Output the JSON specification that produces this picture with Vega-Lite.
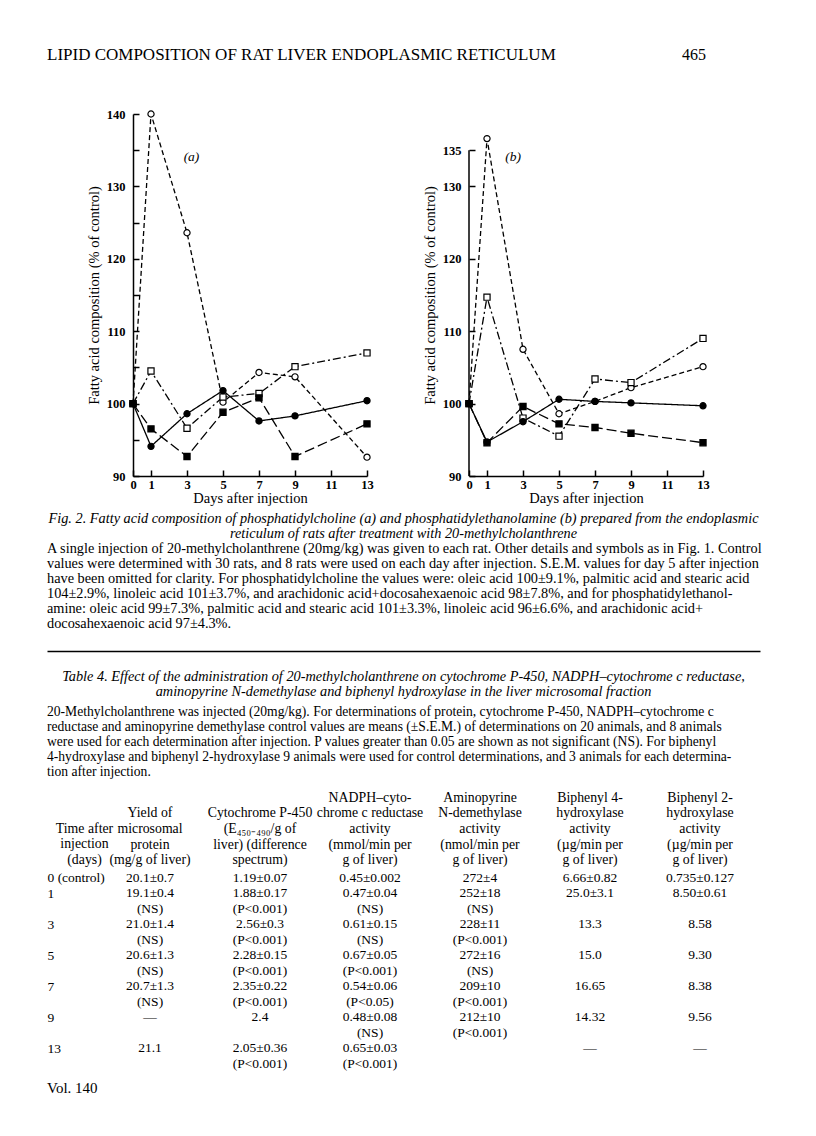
{
  "$schema": "https://vega.github.io/schema/vega-lite/v6.json",
  "background": "white",
  "padding": {"left": 47, "top": 8, "right": 0, "bottom": 0},
  "spacing": 6,
  "config": {
    "view": {"stroke": null},
    "font": "Liberation Serif",
    "text": {"font": "Liberation Serif", "color": "black", "fontSize": 13},
    "title": {"font": "Liberation Serif", "fontWeight": "normal", "color": "black", "fontSize": 13},
    "axis": {"domainColor": "black", "tickColor": "black", "labelColor": "black", "titleColor": "black", "labelFont": "Liberation Serif", "titleFont": "Liberation Serif", "grid": false, "labelFlush": false, "labelOverlap": false, "titleFontWeight": "normal"}
  },
  "datasets": {
    "fatty": [
      {"panel": "a", "series": "open circle", "day": 0, "value": 100},
      {"panel": "a", "series": "open circle", "day": 1, "value": 140},
      {"panel": "a", "series": "open circle", "day": 3, "value": 123.6},
      {"panel": "a", "series": "open circle", "day": 5, "value": 100.2},
      {"panel": "a", "series": "open circle", "day": 7, "value": 104.3},
      {"panel": "a", "series": "open circle", "day": 9, "value": 103.7},
      {"panel": "a", "series": "open circle", "day": 13, "value": 92.6},
      {"panel": "a", "series": "open square", "day": 0, "value": 100},
      {"panel": "a", "series": "open square", "day": 1, "value": 104.5},
      {"panel": "a", "series": "open square", "day": 3, "value": 96.6},
      {"panel": "a", "series": "open square", "day": 5, "value": 100.9},
      {"panel": "a", "series": "open square", "day": 7, "value": 101.4},
      {"panel": "a", "series": "open square", "day": 9, "value": 105.1},
      {"panel": "a", "series": "open square", "day": 13, "value": 107.0},
      {"panel": "a", "series": "filled circle", "day": 0, "value": 100},
      {"panel": "a", "series": "filled circle", "day": 1, "value": 94.1},
      {"panel": "a", "series": "filled circle", "day": 3, "value": 98.6},
      {"panel": "a", "series": "filled circle", "day": 5, "value": 101.8},
      {"panel": "a", "series": "filled circle", "day": 7, "value": 97.6},
      {"panel": "a", "series": "filled circle", "day": 9, "value": 98.3},
      {"panel": "a", "series": "filled circle", "day": 13, "value": 100.4},
      {"panel": "a", "series": "filled square", "day": 0, "value": 100},
      {"panel": "a", "series": "filled square", "day": 1, "value": 96.5},
      {"panel": "a", "series": "filled square", "day": 3, "value": 92.7},
      {"panel": "a", "series": "filled square", "day": 5, "value": 98.8},
      {"panel": "a", "series": "filled square", "day": 7, "value": 100.8},
      {"panel": "a", "series": "filled square", "day": 9, "value": 92.7},
      {"panel": "a", "series": "filled square", "day": 13, "value": 97.2},
      {"panel": "b", "series": "open circle", "day": 0, "value": 100},
      {"panel": "b", "series": "open circle", "day": 1, "value": 136.6},
      {"panel": "b", "series": "open circle", "day": 3, "value": 107.5},
      {"panel": "b", "series": "open circle", "day": 5, "value": 98.6},
      {"panel": "b", "series": "open circle", "day": 7, "value": 100.3},
      {"panel": "b", "series": "open circle", "day": 9, "value": 102.2},
      {"panel": "b", "series": "open circle", "day": 13, "value": 105.1},
      {"panel": "b", "series": "open square", "day": 0, "value": 100},
      {"panel": "b", "series": "open square", "day": 1, "value": 114.7},
      {"panel": "b", "series": "open square", "day": 3, "value": 98.0},
      {"panel": "b", "series": "open square", "day": 5, "value": 95.5},
      {"panel": "b", "series": "open square", "day": 7, "value": 103.4},
      {"panel": "b", "series": "open square", "day": 9, "value": 102.9},
      {"panel": "b", "series": "open square", "day": 13, "value": 109.0},
      {"panel": "b", "series": "filled circle", "day": 0, "value": 100},
      {"panel": "b", "series": "filled circle", "day": 1, "value": 94.7},
      {"panel": "b", "series": "filled circle", "day": 3, "value": 97.5},
      {"panel": "b", "series": "filled circle", "day": 5, "value": 100.6},
      {"panel": "b", "series": "filled circle", "day": 7, "value": 100.3},
      {"panel": "b", "series": "filled circle", "day": 9, "value": 100.1},
      {"panel": "b", "series": "filled circle", "day": 13, "value": 99.7},
      {"panel": "b", "series": "filled square", "day": 0, "value": 100},
      {"panel": "b", "series": "filled square", "day": 1, "value": 94.6},
      {"panel": "b", "series": "filled square", "day": 3, "value": 99.6},
      {"panel": "b", "series": "filled square", "day": 5, "value": 97.2},
      {"panel": "b", "series": "filled square", "day": 7, "value": 96.7},
      {"panel": "b", "series": "filled square", "day": 9, "value": 95.9},
      {"panel": "b", "series": "filled square", "day": 13, "value": 94.6}
    ],
    "panels": [
      {"panel": "a", "label": "(a)"},
      {"panel": "b", "label": "(b)"}
    ],
    "columns": [
      {"col": "yield", "header": "|Yield of|microsomal|protein|(mg/g of liver)"},
      {"col": "cyto", "header": "|Cytochrome P-450|(E₄₅₀₋₄₉₀/g of|liver) (difference|spectrum)"},
      {"col": "nadph", "header": "NADPH–cyto-|chrome c reductase|activity|(mmol/min per|g of liver)"},
      {"col": "amino", "header": "Aminopyrine|N-demethylase|activity|(nmol/min per|g of liver)"},
      {"col": "bp4", "header": "Biphenyl 4-|hydroxylase|activity|(µg/min per|g of liver)"},
      {"col": "bp2", "header": "Biphenyl 2-|hydroxylase|activity|(µg/min per|g of liver)"}
    ],
    "table": [
      {"line": "0 (control)", "yield": "20.1±0.7", "cyto": "1.19±0.07", "nadph": "0.45±0.002", "amino": "272±4", "bp4": "6.66±0.82", "bp2": "0.735±0.127"},
      {"line": "1", "yield": "19.1±0.4", "cyto": "1.88±0.17", "nadph": "0.47±0.04", "amino": "252±18", "bp4": "25.0±3.1", "bp2": "8.50±0.61"},
      {"line": "1 (P)", "yield": "(NS)", "cyto": "(P<0.001)", "nadph": "(NS)", "amino": "(NS)"},
      {"line": "3", "yield": "21.0±1.4", "cyto": "2.56±0.3", "nadph": "0.61±0.15", "amino": "228±11", "bp4": "13.3", "bp2": "8.58"},
      {"line": "3 (P)", "yield": "(NS)", "cyto": "(P<0.001)", "nadph": "(NS)", "amino": "(P<0.001)"},
      {"line": "5", "yield": "20.6±1.3", "cyto": "2.28±0.15", "nadph": "0.67±0.05", "amino": "272±16", "bp4": "15.0", "bp2": "9.30"},
      {"line": "5 (P)", "yield": "(NS)", "cyto": "(P<0.001)", "nadph": "(P<0.001)", "amino": "(NS)"},
      {"line": "7", "yield": "20.7±1.3", "cyto": "2.35±0.22", "nadph": "0.54±0.06", "amino": "209±10", "bp4": "16.65", "bp2": "8.38"},
      {"line": "7 (P)", "yield": "(NS)", "cyto": "(P<0.001)", "nadph": "(P<0.05)", "amino": "(P<0.001)"},
      {"line": "9", "yield": "—", "cyto": "2.4", "nadph": "0.48±0.08", "amino": "212±10", "bp4": "14.32", "bp2": "9.56"},
      {"line": "9 (P)", "nadph": "(NS)", "amino": "(P<0.001)"},
      {"line": "13", "yield": "21.1", "cyto": "2.05±0.36", "nadph": "0.65±0.03", "bp4": "—", "bp2": "—"},
      {"line": "13 (P)", "cyto": "(P<0.001)", "nadph": "(P<0.001)"}
    ]
  },
  "vconcat": [
    {
      "width": 627,
      "height": 94,
      "layer": [
        {
          "data": {"values": [{"t": "LIPID COMPOSITION OF RAT LIVER ENDOPLASMIC RETICULUM"}]},
          "mark": {"type": "text", "align": "left", "fontSize": 17},
          "encoding": {
            "x": {"datum": 0, "type": "quantitative", "scale": {"domain": [0, 1], "range": [-86, 573]}, "axis": null},
            "text": {"field": "t"}
          }
        },
        {
          "data": {"values": [{"t": "465"}]},
          "mark": {"type": "text", "align": "right", "fontSize": 16},
          "encoding": {
            "x": {"datum": 1, "type": "quantitative"},
            "text": {"field": "t"}
          }
        }
      ]
    },
    {
      "spacing": 48,
      "hconcat": [
        {
          "width": 234,
          "height": 362,
          "layer": [
            {
              "data": {"name": "fatty"},
              "transform": [{"filter": "datum.panel === 'a'"}],
              "mark": {"type": "line", "color": "black", "strokeWidth": 1.3},
              "encoding": {
                "x": {"field": "day", "type": "quantitative", "scale": {"domain": [0, 13], "nice": false},
                  "axis": {"values": [0, 1, 3, 5, 7, 9, 11, 13], "format": "d", "tickCount": 30, "labelOverlap": false, "labelFlush": false, "tickSize": -6, "tickWidth": 1.5, "domainWidth": 1.5, "labelPadding": 8, "labelFontSize": 12.5, "labelFontWeight": "bold", "title": "Days after injection", "titleFontSize": 14.5, "titlePadding": 1}},
                "y": {"field": "value", "type": "quantitative", "scale": {"domain": [90, 140], "nice": false, "zero": false},
                  "axis": {"values": [90, 95, 100, 105, 110, 115, 120, 125, 130, 135, 140], "format": "d", "tickCount": 30, "labelOverlap": false, "labelFlush": false, "labelExpr": "datum.value % 10 === 0 ? datum.label : ''", "tickSize": -6, "tickWidth": 1.5, "domainWidth": 1.5, "labelPadding": 14, "labelFontSize": 12.5, "labelFontWeight": "bold", "title": "Fatty acid composition (% of control)", "titleFontSize": 14.5, "titlePadding": 5}},
                "strokeDash": {"field": "series", "type": "nominal", "scale": {"domain": ["open circle", "open square", "filled circle", "filled square"], "range": [[5, 3], [8, 3, 2, 3], [1, 0], [10, 4]]}, "legend": null}
              }
            },
            {
              "data": {"name": "fatty"},
              "transform": [{"filter": "datum.panel === 'a'"}],
              "mark": {"type": "point", "filled": true, "stroke": "black", "strokeWidth": 1.2, "size": 38, "opacity": 1},
              "encoding": {
                "x": {"field": "day", "type": "quantitative"},
                "y": {"field": "value", "type": "quantitative"},
                "shape": {"field": "series", "type": "nominal", "scale": {"domain": ["open circle", "open square", "filled circle", "filled square"], "range": ["circle", "square", "circle", "square"]}, "legend": null},
                "fill": {"field": "series", "type": "nominal", "scale": {"domain": ["open circle", "open square", "filled circle", "filled square"], "range": ["white", "white", "black", "black"]}, "legend": null}
              }
            },
            {
              "data": {"name": "panels"},
              "transform": [{"filter": "datum.panel === 'a'"}],
              "mark": {"type": "text", "fontStyle": "italic", "fontSize": 13.5},
              "encoding": {
                "x": {"datum": 3.25, "type": "quantitative"},
                "y": {"datum": 134, "type": "quantitative"},
                "text": {"field": "label"}
              }
            }
          ]
        },
        {
          "width": 234,
          "height": 362,
          "layer": [
            {
              "data": {"name": "fatty"},
              "transform": [{"filter": "datum.panel === 'b'"}],
              "mark": {"type": "line", "color": "black", "strokeWidth": 1.3},
              "encoding": {
                "x": {"field": "day", "type": "quantitative", "scale": {"domain": [0, 13], "nice": false},
                  "axis": {"values": [0, 1, 3, 5, 7, 9, 11, 13], "format": "d", "tickCount": 30, "labelOverlap": false, "labelFlush": false, "tickSize": -6, "tickWidth": 1.5, "domainWidth": 1.5, "labelPadding": 8, "labelFontSize": 12.5, "labelFontWeight": "bold", "title": "Days after injection", "titleFontSize": 14.5, "titlePadding": 1}},
                "y": {"field": "value", "type": "quantitative", "scale": {"domain": [90, 140], "nice": false, "zero": false},
                  "axis": {"values": [90, 100, 110, 120, 130, 135], "format": "d", "tickCount": 30, "labelOverlap": false, "labelFlush": false, "domain": false, "tickSize": -6, "tickWidth": 1.5, "labelPadding": 14, "labelFontSize": 12.5, "labelFontWeight": "bold", "title": "Fatty acid composition (% of control)", "titleFontSize": 14.5, "titlePadding": 5}},
                "strokeDash": {"field": "series", "type": "nominal", "scale": {"domain": ["open circle", "open square", "filled circle", "filled square"], "range": [[5, 3], [8, 3, 2, 3], [1, 0], [10, 4]]}, "legend": null}
              }
            },
            {
              "data": {"name": "panels"},
              "transform": [{"filter": "datum.panel === 'b'"}],
              "mark": {"type": "rule", "color": "black", "strokeWidth": 1.5},
              "encoding": {
                "x": {"datum": 0, "type": "quantitative"},
                "y": {"datum": 90, "type": "quantitative"},
                "y2": {"datum": 135}
              }
            },
            {
              "data": {"name": "fatty"},
              "transform": [{"filter": "datum.panel === 'b'"}],
              "mark": {"type": "point", "filled": true, "stroke": "black", "strokeWidth": 1.2, "size": 38, "opacity": 1},
              "encoding": {
                "x": {"field": "day", "type": "quantitative"},
                "y": {"field": "value", "type": "quantitative"},
                "shape": {"field": "series", "type": "nominal", "scale": {"domain": ["open circle", "open square", "filled circle", "filled square"], "range": ["circle", "square", "circle", "square"]}, "legend": null},
                "fill": {"field": "series", "type": "nominal", "scale": {"domain": ["open circle", "open square", "filled circle", "filled square"], "range": ["white", "white", "black", "black"]}, "legend": null}
              }
            },
            {
              "data": {"name": "panels"},
              "transform": [{"filter": "datum.panel === 'b'"}],
              "mark": {"type": "text", "fontStyle": "italic", "fontSize": 13.5},
              "encoding": {
                "x": {"datum": 2.45, "type": "quantitative"},
                "y": {"datum": 134, "type": "quantitative"},
                "text": {"field": "label"}
              }
            }
          ]
        }
      ]
    },
    {
      "width": 627,
      "height": 90,
      "title": {
        "text": ["Fig. 2. Fatty acid composition of phosphatidylcholine (a) and phosphatidylethanolamine (b) prepared from the endoplasmic", "reticulum of rats after treatment with 20-methylcholanthrene"],
        "anchor": "middle", "frame": "bounds", "dx": -43, "fontStyle": "italic", "fontSize": 14.3, "lineHeight": 15, "offset": 0
      },
      "data": {"values": [
        {"line": "A single injection of 20-methylcholanthrene (20mg/kg) was given to each rat. Other details and symbols as in Fig. 1. Control"},
        {"line": "values were determined with 30 rats, and 8 rats were used on each day after injection. S.E.M. values for day 5 after injection"},
        {"line": "have been omitted for clarity. For phosphatidylcholine the values were: oleic acid 100±9.1%, palmitic acid and stearic acid"},
        {"line": "104±2.9%, linoleic acid 101±3.7%, and arachidonic acid+docosahexaenoic acid 98±7.8%, and for phosphatidylethanol-"},
        {"line": "amine: oleic acid 99±7.3%, palmitic acid and stearic acid 101±3.3%, linoleic acid 96±6.6%, and arachidonic acid+"},
        {"line": "docosahexaenoic acid 97±4.3%."}
      ]},
      "mark": {"type": "text", "align": "left", "fontSize": 14.3},
      "encoding": {
        "x": {"datum": 0, "type": "quantitative", "scale": {"domain": [0, 1], "range": [-86, 627]},
          "axis": {"labels": false, "ticks": false, "title": null, "domain": true, "domainWidth": 1.3, "offset": 20, "minExtent": 12, "orient": "bottom"}},
        "y": {"field": "line", "type": "ordinal", "sort": null, "scale": {"type": "point", "padding": 0.5}, "axis": null},
        "text": {"field": "line"}
      }
    },
    {
      "width": 627,
      "height": 76,
      "title": {
        "text": ["Table 4. Effect of the administration of 20-methylcholanthrene on cytochrome P-450, NADPH–cytochrome c reductase,", "aminopyrine N-demethylase and biphenyl hydroxylase in the liver microsomal fraction"],
        "anchor": "middle", "frame": "bounds", "fontStyle": "italic", "fontSize": 14.3, "lineHeight": 15, "offset": 5
      },
      "data": {"values": [
        {"line": "20-Methylcholanthrene was injected (20mg/kg). For determinations of protein, cytochrome P-450, NADPH–cytochrome c"},
        {"line": "reductase and aminopyrine demethylase control values are means (±S.E.M.) of determinations on 20 animals, and 8 animals"},
        {"line": "were used for each determination after injection. P values greater than 0.05 are shown as not significant (NS). For biphenyl"},
        {"line": "4-hydroxylase and biphenyl 2-hydroxylase 9 animals were used for control determinations, and 3 animals for each determina-"},
        {"line": "tion after injection."}
      ]},
      "mark": {"type": "text", "align": "left", "fontSize": 13.6},
      "encoding": {
        "x": {"datum": 0, "type": "quantitative", "scale": {"domain": [0, 1], "range": [-86, 627]}, "axis": null},
        "y": {"field": "line", "type": "ordinal", "sort": null, "scale": {"type": "point", "padding": 0.5}, "axis": null},
        "text": {"field": "line"}
      }
    },
    {
      "width": 627,
      "height": 201.5,
      "title": {"text": "Vol. 140", "orient": "bottom", "anchor": "start", "frame": "bounds", "fontSize": 15, "offset": 9},
      "data": {"name": "table"},
      "transform": [
        {"fold": ["yield", "cyto", "nadph", "amino", "bp4", "bp2"], "as": ["col", "text"]},
        {"filter": "isValid(datum.text) && datum.text !== ''"},
        {"lookup": "col", "from": {"data": {"name": "columns"}, "key": "col", "fields": ["header"]}}
      ],
      "mark": {"type": "text", "fontSize": 13.5},
      "encoding": {
        "x": {"field": "header", "type": "nominal", "sort": null, "scale": {"type": "band", "paddingInner": 0, "paddingOuter": 0, "range": [-38, 622]},
          "axis": {"orient": "top", "labelExpr": "split(datum.label, '|')", "labelAngle": 0, "labelAlign": "center", "labelBaseline": "bottom", "labelLineHeight": 15.7, "labelFontSize": 13.8, "labelPadding": 66, "labelLimit": 300, "labelOverlap": false, "ticks": false, "domain": false, "title": null, "minExtent": 84}},
        "y": {"field": "line", "type": "ordinal", "sort": null, "scale": {"type": "point", "padding": 0.5},
          "axis": {"labelExpr": "indexof(datum.label, '(P)') >= 0 ? '' : datum.label", "labelAlign": "left", "labelPadding": 86, "labelOverlap": false, "ticks": false, "tickSize": 0, "domain": false, "labelFontSize": 13.5,
            "title": ["Time after", "injection", "(days)"], "titleAngle": 0, "titleAlign": "center", "titleBaseline": "bottom", "titleX": -49, "titleY": -34.7, "titleLineHeight": 15.7, "titleFontSize": 13.8}},
        "text": {"field": "text"}
      }
    }
  ]
}
